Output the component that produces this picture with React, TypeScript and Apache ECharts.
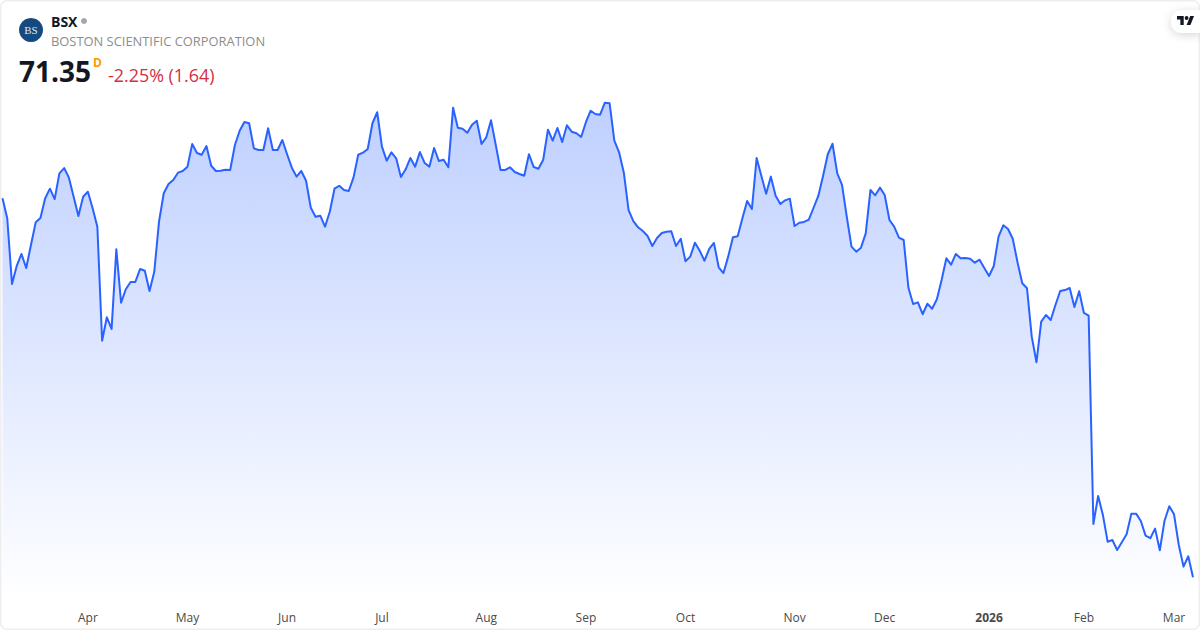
import React, { useEffect, useRef } from "react";
import * as echarts from "echarts";

const prices = [
  100.96, 99.40, 94.26, 95.67, 96.61, 95.51, 97.31, 99.08, 99.42, 100.96, 101.71, 100.90,
  102.91, 103.32, 102.57, 101.08, 99.57, 101.08, 101.47, 100.18, 98.74, 89.83, 91.66, 90.75,
  96.97, 92.80, 93.85, 94.42, 94.42, 95.43, 95.30, 93.72, 95.22, 99.13, 101.35, 102.07,
  102.39, 102.96, 103.09, 103.43, 105.20, 104.50, 104.36, 105.04, 103.50, 103.09, 103.11, 103.19,
  103.17, 105.12, 106.24, 106.92, 106.82, 104.86, 104.73, 104.73, 106.43, 104.73, 104.73, 105.51,
  104.40, 103.35, 102.65, 103.09, 102.33, 100.22, 99.52, 99.60, 98.74, 99.91, 101.71, 101.94,
  101.61, 101.53, 102.57, 104.36, 104.52, 104.81, 106.82, 107.68, 104.99, 103.90, 104.55, 104.08,
  102.62, 103.22, 104.11, 103.43, 104.57, 103.72, 103.43, 104.89, 103.87, 103.97, 103.38, 108.04,
  106.47, 106.40, 106.08, 106.71, 107.02, 105.20, 105.72, 107.05, 105.12, 103.17, 103.17, 103.38,
  103.01, 102.86, 102.72, 104.40, 103.40, 103.27, 103.97, 106.32, 105.46, 106.45, 105.36, 106.66,
  106.16, 106.04, 105.75, 106.90, 107.80, 107.54, 107.49, 108.43, 108.38, 105.46, 104.55, 102.96,
  100.04, 99.18, 98.69, 98.40, 98.01, 97.23, 97.86, 98.25, 98.35, 98.38, 97.23, 97.80,
  96.04, 96.40, 97.49, 96.86, 96.08, 97.00, 97.47, 95.57, 95.12, 96.40, 97.91, 97.99,
  99.40, 100.75, 100.12, 104.11, 102.70, 101.32, 102.65, 101.16, 100.51, 100.80, 100.93, 98.79,
  99.05, 99.11, 99.29, 100.22, 101.14, 102.70, 104.40, 105.22, 102.91, 102.00, 99.52, 97.18,
  96.79, 97.10, 98.22, 101.61, 101.19, 101.79, 101.22, 99.26, 98.74, 97.88, 97.70, 93.97,
  92.70, 92.83, 91.90, 92.72, 92.33, 93.07, 94.57, 96.27, 95.77, 96.61, 96.27, 96.29,
  96.24, 95.93, 96.16, 95.51, 94.89, 95.67, 97.96, 98.85, 98.56, 97.80, 95.96, 94.32,
  93.93, 90.15, 88.15, 91.32, 91.84, 91.45, 92.62, 93.72, 93.79, 93.95, 92.47, 93.69,
  92.00, 91.79, 75.51, 77.70, 76.22, 74.13, 74.26, 73.48, 74.08, 74.71, 76.32, 76.32,
  75.75, 74.60, 74.40, 75.15, 73.46, 75.77, 76.90, 76.27, 73.87, 72.18, 72.99, 71.35,
];

const tickLabels = ["Apr", "May", "Jun", "Jul", "Aug", "Sep", "Oct", "Nov", "Dec", "2026", "Feb", "Mar"];
const tickSessions = [18, 39, 60, 80, 102, 123, 144, 167, 186, 208, 228, 247];

const categories = prices.map((_, i) => {
  const k = tickSessions.indexOf(i);
  return k >= 0 ? tickLabels[k] : "";
});

const FONT = '"Open Sans", sans-serif';
const LOGO_D = "M14 22H7V11H0V4h14v18zM28 22h-8l7.5-18h8L28 22zM24 8a4 4 0 1 1-8 0a4 4 0 0 1 8 0z";
echarts.graphic.registerShape("tvlogo", echarts.graphic.extendPath(LOGO_D, {}) as any);

export default function App() {
  const ref = useRef<HTMLDivElement>(null);
  useEffect(() => {
    document.body.style.margin = "0";
    const chart = echarts.init(ref.current!, undefined, { renderer: "svg", width: 1200, height: 630 });
    chart.setOption({
      animation: false,
      backgroundColor: "transparent",
      grid: { left: 2.5, right: 7, top: 90, height: 510, containLabel: false },
      xAxis: {
        type: "category",
        data: categories,
        boundaryGap: false,
        axisLine: { show: false },
        axisTick: { show: false },
        splitLine: { show: false },
        axisLabel: {
          interval: (_: number, v: string) => v !== "",
          margin: 11,
          color: "#4a4a4a",
          fontFamily: FONT,
          fontSize: 12,
          formatter: (v: string) => (v === "2026" ? `{b|${v}}` : v),
          rich: { b: { fontWeight: 700, fontFamily: FONT, fontSize: 12, color: "#4a4a4a" } },
        },
      },
      yAxis: { type: "value", min: 69.575, max: 109.419, show: false },
      series: [
        {
          type: "line",
          data: prices,
          symbol: "none",
          lineStyle: { color: "#2962ff", width: 2, join: "round" },
          areaStyle: {
            opacity: 1,
            color: new echarts.graphic.LinearGradient(0, 0, 0, 1, [
              { offset: 0, color: "rgba(41,98,255,0.30)" },
              { offset: 1, color: "rgba(41,98,255,0)" },
            ]),
          },
        },
      ],
      graphic: [
        {
          type: "rect",
          silent: true,
          shape: { x: 0.75, y: 0.75, width: 1198.5, height: 628.5, r: 6 },
          style: { fill: "none", stroke: "#eeeeee", lineWidth: 1.5 },
        },
        {
          type: "rect",
          shape: { x: 1171, y: 10, width: 29, height: 23, r: [11, 0, 0, 11] },
          style: { fill: "#ffffff", shadowBlur: 10, shadowColor: "rgba(0,0,0,0.16)", shadowOffsetY: 2 },
        },
        { type: "tvlogo", x: 1177, y: 14, scaleX: 0.48, scaleY: 0.5, style: { fill: "#131722" } },
        { type: "circle", shape: { cx: 31, cy: 30, r: 12 }, style: { fill: "#154a80" } },
        {
          type: "text", x: 31, y: 30,
          style: { text: "BS", fill: "#dfe8f2", font: '11px "Liberation Serif", serif', textAlign: "center", textVerticalAlign: "middle" },
        },
        {
          type: "text", x: 51, y: 21,
          style: { text: "BSX", fill: "#131722", font: `700 14px ${FONT}`, textAlign: "left", textVerticalAlign: "middle" },
        },
        { type: "circle", shape: { cx: 84, cy: 21, r: 3 }, style: { fill: "#a3a6af" } },
        {
          type: "text", x: 51, y: 41,
          style: { text: "BOSTON SCIENTIFIC CORPORATION", fill: "#8c8c8c", font: `12.9px ${FONT}`, textAlign: "left", textVerticalAlign: "middle" },
        },
        {
          type: "text", x: 19, y: 71,
          style: { text: "71.35", fill: "#131722", font: `700 28px ${FONT}`, textAlign: "left", textVerticalAlign: "middle" },
        },
        {
          type: "text", x: 93, y: 62,
          style: { text: "D", fill: "#ff9800", font: `700 12px ${FONT}`, textAlign: "left", textVerticalAlign: "middle" },
        },
        {
          type: "text", x: 108, y: 75,
          style: { text: "-2.25% (1.64)", fill: "#d32f45", font: `17.9px ${FONT}`, textAlign: "left", textVerticalAlign: "middle" },
        },
      ],
    });
    return () => chart.dispose();
  }, []);
  return <div ref={ref} style={{ position: "absolute", left: 0, top: 0, width: 1200, height: 630, background: "#fff" }} />;
}
